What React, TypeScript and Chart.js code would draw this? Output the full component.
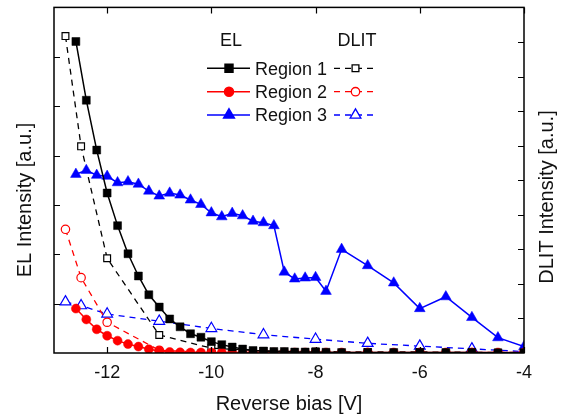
import React, { useEffect, useRef } from "react";
import { Chart, registerables } from "chart.js";
import { drawPoint } from "chart.js/helpers";

Chart.register(...registerables);

// ---------- data ----------
const elVoltages = [
  -12.6, -12.4, -12.2, -12.0, -11.8, -11.6, -11.4, -11.2, -11.0, -10.8, -10.6, -10.4,
  -10.2, -10.0, -9.8, -9.6, -9.4, -9.2, -9.0, -8.8, -8.6, -8.4, -8.2, -8.0,
  -7.8, -7.5, -7.0, -6.5, -6.0, -5.5, -5.0, -4.5, -4.0,
];
const elRegion1 = [
  6.31, 5.12, 4.11, 3.24, 2.58, 2.01, 1.56, 1.18, 0.93, 0.69, 0.53, 0.39,
  0.32, 0.23, 0.17, 0.12, 0.08, 0.05, 0.04, 0.03, 0.03, 0.02, 0.02, 0.02,
  0.015, 0.01, 0.01, 0.01, 0.01, 0.01, 0.01, 0.005, 0.005,
];
const elRegion2 = [
  0.9, 0.68, 0.48, 0.35, 0.25, 0.18, 0.13, 0.075, 0.04, 0.02, 0.015, 0.01,
  0.01, 0.01, 0.01, 0.01, 0.01, 0.01, 0.01, 0.01, 0.01, 0.01, 0.01, 0.01,
  0.01, 0.01, 0.01, 0.01, 0.01, 0.01, 0.01, 0.01, 0.01,
];
const elRegion3 = [
  3.62, 3.7, 3.6, 3.58, 3.45, 3.47, 3.42, 3.28, 3.18, 3.24, 3.2, 3.1,
  3.01, 2.84, 2.76, 2.83, 2.78, 2.67, 2.64, 2.58, 1.64, 1.5, 1.52, 1.53,
  1.25, 2.1, 1.77, 1.42, 0.9, 1.14, 0.72, 0.31, 0.13,
];
const dlitVoltages = [-12.8, -12.5, -12.0, -11.0, -10.0, -9.0, -8.0, -7.0, -6.0, -5.0, -4.0];
const dlitRegion1 = [9.17, 5.98, 2.74, 0.52, 0.14, 0.06, 0.04, 0.03, 0.03, 0.02, 0.02];
const dlitRegion2 = [3.58, 2.18, 0.89, 0.08, 0.015, 0.01, 0.01, 0.01, 0.01, 0.01, 0.01];
const dlitRegion3 = [1.48, 1.37, 1.13, 0.92, 0.71, 0.53, 0.4, 0.28, 0.2, 0.12, 0.04];

const xTickValues = [-12, -10, -8, -6, -4];
const xTickLabels = ["-12", "-10", "-8", "-6", "-4"];
const leftTickValues = [1, 2, 3, 4, 5, 6];
const rightTickValues = [1, 2, 3, 4, 5, 6, 7, 8, 9];
const regionNames = ["Region 1", "Region 2", "Region 3"];
const legendHeaders = ["EL", "DLIT"];
const xTitle = "Reverse bias [V]";
const yLeftTitle = "EL Intensity [a.u.]";
const yRightTitle = "DLIT Intensity [a.u.]";

// ---------- styles ----------
const FONT = "'Liberation Sans', Arial, sans-serif";
const TEXT = "#111";
const colors = ["#000000", "#ff0000", "#0000ff"];

const toPoints = (xs: number[], ys: number[]) => xs.map((x, i) => ({ x, y: ys[i] }));

const frameAndText = {
  id: "frameAndText",
  afterDraw(chart: any) {
    const { ctx, chartArea } = chart;
    const { left, right, top, bottom } = chartArea;
    const xs = chart.scales.x;
    const yl = chart.scales.y;
    const yr = chart.scales.y1;
    ctx.save();
    // frame
    ctx.strokeStyle = "#000";
    ctx.lineWidth = 1.5;
    ctx.setLineDash([]);
    ctx.strokeRect(left, top, right - left, bottom - top);
    // inward ticks
    const tl = 6;
    ctx.beginPath();
    xTickValues.forEach((v) => {
      const px = Math.round(xs.getPixelForValue(v)) + 0.5;
      ctx.moveTo(px, bottom);
      ctx.lineTo(px, bottom - tl);
      ctx.moveTo(px, top);
      ctx.lineTo(px, top + tl);
    });
    leftTickValues.forEach((v) => {
      const py = Math.round(yl.getPixelForValue(v)) + 0.5;
      ctx.moveTo(left, py);
      ctx.lineTo(left + tl, py);
    });
    rightTickValues.forEach((v) => {
      const py = Math.round(yr.getPixelForValue(v)) + 0.5;
      ctx.moveTo(right, py);
      ctx.lineTo(right - tl, py);
    });
    ctx.lineWidth = 1.2;
    ctx.stroke();

    // axis titles
    ctx.fillStyle = TEXT;
    ctx.font = `20px ${FONT}`;
    ctx.textAlign = "center";
    ctx.textBaseline = "middle";
    ctx.fillText(xTitle, (left + right) / 2, 404);
    ctx.save();
    ctx.translate(25, 200);
    ctx.rotate(-Math.PI / 2);
    ctx.fillText(yLeftTitle, 0, 0);
    ctx.restore();
    ctx.save();
    ctx.translate(547, 197);
    ctx.rotate(-Math.PI / 2);
    ctx.fillText(yRightTitle, 0, 0);
    ctx.restore();

    // legend
    ctx.font = `18px ${FONT}`;
    ctx.textBaseline = "alphabetic";
    ctx.fillText(legendHeaders[0], 231, 46);
    ctx.fillText(legendHeaders[1], 357, 46);
    const rows = [68.3, 91.7, 115];
    const dsets = chart.data.datasets;
    rows.forEach((ry, i) => {
      const el = dsets[i];
      const dl = dsets[i + 3];
      // EL sample
      ctx.setLineDash([]);
      ctx.strokeStyle = el.borderColor;
      ctx.lineWidth = el.borderWidth;
      ctx.beginPath();
      ctx.moveTo(207, ry);
      ctx.lineTo(250, ry);
      ctx.stroke();
      ctx.fillStyle = el.pointBackgroundColor;
      ctx.strokeStyle = el.pointBorderColor;
      drawPoint(ctx, { pointStyle: el.pointStyle, radius: el.pointRadius, borderWidth: el.pointBorderWidth, rotation: 0 }, 229, ry);
      // label
      ctx.fillStyle = TEXT;
      ctx.textAlign = "left";
      ctx.fillText(regionNames[i], 255, ry + 6.4);
      // DLIT sample
      ctx.strokeStyle = dl.borderColor;
      ctx.lineWidth = dl.borderWidth;
      ctx.setLineDash(dl.borderDash);
      ctx.beginPath();
      ctx.moveTo(334, ry);
      ctx.lineTo(378, ry);
      ctx.stroke();
      ctx.setLineDash([]);
      ctx.fillStyle = dl.pointBackgroundColor;
      ctx.strokeStyle = dl.pointBorderColor;
      drawPoint(ctx, { pointStyle: dl.pointStyle, radius: dl.pointRadius, borderWidth: dl.pointBorderWidth, rotation: 0 }, 355.5, ry);
    });
    ctx.restore();
  },
};

export default function App() {
  const ref = useRef<HTMLCanvasElement | null>(null);
  useEffect(() => {
    if (!ref.current) return;
    const elStyles = [
      { pointStyle: "rect", pointRadius: 5.6 },
      { pointStyle: "circle", pointRadius: 4.5 },
      { pointStyle: "triangle", pointRadius: 6.2 },
    ];
    const dlStyles = [
      { pointStyle: "rect", pointRadius: 4.8 },
      { pointStyle: "circle", pointRadius: 4.2 },
      { pointStyle: "triangle", pointRadius: 6.2 },
    ];
    const elData = [elRegion1, elRegion2, elRegion3];
    const dlData = [dlitRegion1, dlitRegion2, dlitRegion3];
    const datasets: any[] = [];
    elData.forEach((d, i) => {
      datasets.push({
        label: "EL " + regionNames[i],
        data: toPoints(elVoltages, d),
        yAxisID: "y",
        borderColor: colors[i],
        borderWidth: 1.5,
        pointStyle: elStyles[i].pointStyle,
        pointRadius: elStyles[i].pointRadius,
        pointBackgroundColor: colors[i],
        pointBorderColor: colors[i],
        pointBorderWidth: 0.5,
        tension: 0,
        fill: false,
      });
    });
    dlData.forEach((d, i) => {
      datasets.push({
        label: "DLIT " + regionNames[i],
        data: toPoints(dlitVoltages, d),
        yAxisID: "y1",
        borderColor: colors[i],
        borderWidth: 1.3,
        borderDash: [6, 5],
        pointStyle: dlStyles[i].pointStyle,
        pointRadius: dlStyles[i].pointRadius,
        pointBackgroundColor: "#ffffff",
        pointBorderColor: colors[i],
        pointBorderWidth: 1.2,
        tension: 0,
        fill: false,
      });
    });

    const chart = new Chart(ref.current, {
      type: "line",
      data: { datasets },
      options: {
        animation: false,
        responsive: false,
        devicePixelRatio: 1,
        layout: { padding: { top: 7, left: 0, right: 0, bottom: 0 } },
        plugins: { legend: { display: false }, tooltip: { enabled: false }, title: { display: false } },
        scales: {
          x: {
            type: "linear",
            position: "bottom",
            min: -13.02,
            max: -4,
            grid: { display: false, drawTicks: false },
            border: { display: false },
            afterBuildTicks: (s: any) => {
              s.ticks = xTickValues.map((v) => ({ value: v }));
            },
            afterFit: (s: any) => {
              s.height = 64;
            },
            ticks: {
              padding: 9,
              color: TEXT,
              font: { family: FONT, size: 18 },
              maxRotation: 0,
              autoSkip: false,
              callback: (v: any) => {
                const idx = xTickValues.indexOf(Number(v));
                return idx >= 0 ? xTickLabels[idx] : "";
              },
            },
          },
          y: {
            type: "linear",
            position: "left",
            min: 0,
            max: 7,
            grid: { display: false, drawTicks: false },
            border: { display: false },
            ticks: { display: false },
            afterFit: (s: any) => {
              s.width = 54;
            },
          },
          y1: {
            type: "linear",
            position: "right",
            min: 0,
            max: 10,
            grid: { display: false, drawTicks: false },
            border: { display: false },
            ticks: { display: false },
            afterFit: (s: any) => {
              s.width = 40;
            },
          },
        },
      } as any,
      plugins: [frameAndText],
    });
    return () => chart.destroy();
  }, []);

  return (
    <div style={{ position: "absolute", left: 0, top: 0, width: 564, height: 417, background: "#fff" }}>
      <canvas ref={ref} width={564} height={417} style={{ display: "block" }} />
    </div>
  );
}
